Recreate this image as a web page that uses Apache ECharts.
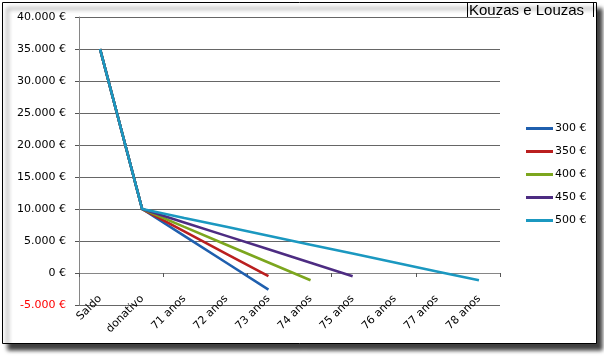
<!DOCTYPE html>
<html>
<head>
<meta charset="utf-8">
<script src="https://cdn.jsdelivr.net/npm/echarts@6/dist/echarts.min.js"></script>
<style>
html,body{margin:0;padding:0;background:#fff;}
#chart{width:604px;height:356px;}
</style>
</head>
<body>
<div id="chart"></div>
<script>
const categories = ['Saldo','donativo','71 anos','72 anos','73 anos','74 anos','75 anos','76 anos','77 anos','78 anos'];
const seriesNames = ['300 €','350 €','400 €','450 €','500 €'];
const s300 = [35000, 10000, 5800, 1600, -2600, null, null, null, null, null];
const s350 = [35000, 10000, 6500, 3000, -500, null, null, null, null, null];
const s400 = [35000, 10000, 7200, 4420, 1640, -1140, null, null, null, null];
const s450 = [35000, 10000, 7900, 5800, 3700, 1600, -500, null, null, null];
const s500 = [35000, 10000, 8600, 7220, 5820, 4430, 3040, 1650, 250, -1140];
const colors = ['#1f5fae','#ba1f1f','#7ca61e','#4d2c82','#1b98c0'];
const titleText = 'Kouzas e Louzas';

const font = 'DejaVu Sans';
function fmt(v){
  const a = Math.abs(v).toString().replace(/\B(?=(\d{3})+(?!\d))/g,'.');
  return (v<0?'-':'') + a + ' €';
}
const chart = echarts.init(document.getElementById('chart'), null, {renderer:'canvas'});
const dataSets = [s300,s350,s400,s450,s500];
chart.setOption({
  animation:false,
  backgroundColor:'transparent',
  title:{text:titleText,left:469,top:3,padding:0,textStyle:{fontFamily:'Liberation Sans',fontSize:15,fontWeight:'normal',color:'#000'}},
  graphic:[
    {type:'rect',z:-10,shape:{x:2.5,y:2.5,width:594,height:341},style:{fill:'#fff',stroke:'#000',lineWidth:1,shadowBlur:4,shadowOffsetX:5,shadowOffsetY:6,shadowColor:'rgba(0,0,0,0.75)'}},
    {type:'polyline',z:-5,shape:{points:[[467.5,17],[467.5,2.5],[593.5,2.5],[593.5,17]]},style:{fill:null,stroke:'#000',lineWidth:1}}
  ],
  legend:{
    orient:'vertical',left:521,top:118,itemWidth:27,itemHeight:3,itemGap:12,icon:'rect',
    data:seriesNames,
    textStyle:{fontFamily:font,fontSize:11,color:'#000',padding:[0,0,0,-3]}
  },
  grid:{left:79,right:104,top:17,bottom:51,containLabel:false},
  xAxis:[
    {type:'category',data:categories,boundaryGap:true,position:'bottom',
     axisLine:{show:false},axisTick:{show:false},
     axisLabel:{rotate:45,margin:-8,interval:0,fontFamily:font,fontSize:11,color:'#000'}},
    {type:'category',data:categories,boundaryGap:true,position:'bottom',
     axisLine:{show:true,onZero:true,onZeroAxisIndex:0,lineStyle:{color:'#868686',width:1}},
     axisTick:{show:true,length:4,inside:false,lineStyle:{color:'#555'}},
     axisLabel:{show:false}}
  ],
  yAxis:{type:'value',min:-5000,max:40000,interval:5000,
    axisLine:{show:true,lineStyle:{color:'#868686'}},
    axisTick:{show:true,length:4,lineStyle:{color:'#555'}},
    splitLine:{show:true,lineStyle:{color:'#666',width:1}},
    axisLabel:{margin:13,fontFamily:font,fontSize:11,formatter:fmt,color:function(v){return Number(v)<0?'#ff0000':'#000';}}
  },
  series:dataSets.map((d,i)=>({
    name:seriesNames[i],type:'line',data:d,xAxisIndex:0,symbol:'none',
    color:colors[i],itemStyle:{color:colors[i]},lineStyle:{width:2.6,color:colors[i]},connectNulls:false,z:2+i
  }))
});
</script>
</body>
</html>
